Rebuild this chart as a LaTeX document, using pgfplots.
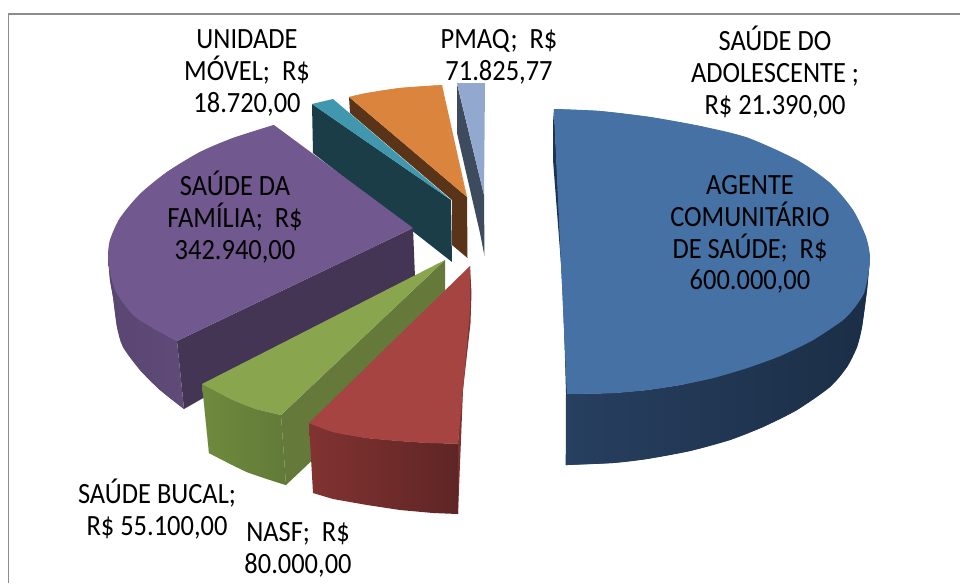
\documentclass[border=0pt]{standalone}
\usepackage{pgfplots}
\pgfplotsset{compat=1.18}
\usepackage{fontspec}
\setmainfont[FakeStretch=0.9]{Carlito}
\definecolor{bluetop}{HTML}{4571A5}
\definecolor{blueA}{HTML}{273F60}
\definecolor{blueB}{HTML}{1B2E46}
\definecolor{bluein}{HTML}{1E3350}
\definecolor{purptop}{HTML}{71588F}
\definecolor{purpA}{HTML}{5F4A78}
\definecolor{purpB}{HTML}{5A4672}
\definecolor{purpin}{HTML}{453555}
\definecolor{greentop}{HTML}{89A54E}
\definecolor{greenA}{HTML}{6F8A3D}
\definecolor{greenB}{HTML}{627A38}
\definecolor{greenin}{HTML}{657A3A}
\definecolor{redtop}{HTML}{A54441}
\definecolor{redA}{HTML}{813331}
\definecolor{redB}{HTML}{5F2525}
\definecolor{redin}{HTML}{7C3331}
\definecolor{tealtop}{HTML}{4097AE}
\definecolor{tealin}{HTML}{1B3D48}
\definecolor{orangetop}{HTML}{DB843D}
\definecolor{orangein}{HTML}{5A3418}
\definecolor{ltop}{HTML}{92A8CE}
\definecolor{lin}{HTML}{3E4A5D}
\definecolor{frame}{HTML}{8C8C8C}
\tikzset{lab/.style={font=\fontsize{29.5}{32}\selectfont, align=center, inner sep=0pt, text=black}}
\begin{document}
\begin{tikzpicture}[x=1bp,y=1bp]
\begin{axis}[
  scale only axis, width=960bp, height=583bp,
  xmin=0, xmax=960, ymin=0, ymax=583, y dir=reverse,
  hide axis, clip=true, no markers,
  every axis plot/.append style={draw=none, line join=round},
]
% background and frame
\addplot[fill=white] coordinates {(0,0)(960,0)(960,583)(0,583)};
\addplot[draw=frame, line width=1.5bp] coordinates {(8.5,583)(8.5,14)(960,14)};
% AGENTE COMUNITARIO: inner strip, outer wall, top
\addplot[fill=bluein] coordinates {(554,109)(553,123)(553,160)(563,290)(566,393)(565.7,465)(568,465)(568,394)};
\addplot[left color=blueA, middle color=blueB, right color=blueB] coordinates {(566,394)(613,393)(647,390)(680,385)(713,378)(747,368)(780,356)(813,340)(843,320)(864,293)(870,257)(867,290)(862,327)(857,347)(847,367)(830,387)(797,410)(763,427)(730,440)(690,451)(647,459)(613,463)(566,465)};
\addplot[smooth, left color=blueA, middle color=blueB, right color=blueB] coordinates {(870,257)(867,290)(862,327)(857,347)(847,367)(830,387)(797,410)(763,427)(730,440)(690,451)(647,459)(613,463)(566,465)};
\addplot[fill=bluetop] coordinates {(554,109)(600,111)(650,117)(700,126)(747,137.5)(797,160)(830,183)(853,210)(866,237)(870,257)(868,275)(864,293)(855,307)(843,320)(813,340)(780,356)(747,368)(713,378)(680,385)(647,390)(613,393)(567,394)};
\addplot[smooth, fill=bluetop] coordinates {(554,109)(600,111)(650,117)(700,126)(747,137.5)(797,160)(830,183)(853,210)(866,237)(870,257)(868,275)(864,293)(855,307)(843,320)(813,340)(780,356)(747,368)(713,378)(680,385)(647,390)(613,393)(567,394)};
% PMAQ
\addplot[fill=lin] coordinates {(457,84)(484,195)(484.5,256)(480,233)(457,133)};
\addplot[fill=ltop] coordinates {(457,83)(485,83)(484,195)};
% orange and teal slices
\addplot[fill=orangein] coordinates {(349,97)(467,197)(467.5,258)(452,245)(452,200)(350,113)};
\addplot[fill=orangetop] coordinates {(349,97)(367,93)(400,88)(442,85)(450,133)(467,197)};
\addplot[smooth, fill=orangetop] coordinates {(349,97)(367,93)(400,88)(442,85)};
\addplot[smooth, fill=orangetop] coordinates {(442,85)(450,133)(467,197)};
\addplot[fill=tealin] coordinates {(312,104)(451,200)(452,262)(313,153)};
\addplot[fill=tealtop] coordinates {(312,104)(333,99)(451,200)};
% SAUDE DA FAMILIA
\addplot[fill=purpin] coordinates {(413,228)(415,277)(184,409)(177,341)};
\addplot[left color=purpB, right color=purpA] coordinates {(108,257)(116,292)(133,315)(153,328)(177,341)(184,409)(160,390)(140,370)(123,347)(117,327)(113,297)(110,280)};
\addplot[smooth, left color=purpB, right color=purpA] coordinates {(108,257)(110,280)(113,297)(117,327)(123,347)(140,370)(160,390)(184,409)};
\addplot[fill=purptop] coordinates {(274,125)(233,138)(200,152)(167,172)(140,194)(120,218)(110,240)(108,257)(110,272)(116,292)(133,315)(153,328)(177,341)(413,228)};
\addplot[smooth, fill=purptop] coordinates {(274,125)(233,138)(200,152)(167,172)(140,194)(120,218)(110,240)(108,257)(110,272)(116,292)(133,315)(153,328)(177,341)};
% SAUDE BUCAL
\addplot[fill=greenin] coordinates {(445,260)(281,415)(286,485)(445,335)};
\addplot[left color=greenA, right color=greenB] coordinates {(202,384)(233,400)(256,409)(281,415)(286,485)(247,472)(209,453)};
\addplot[smooth, left color=greenA, right color=greenB] coordinates {(202,384)(209,453)};
\addplot[smooth, left color=greenA, right color=greenB] coordinates {(209,453)(247,472)(286,485)};
\addplot[fill=greentop] coordinates {(445,260)(202,384)(233,400)(256,409)(281,415)};
\addplot[smooth, fill=greentop] coordinates {(202,384)(233,400)(256,409)(281,415)};
% NASF
\addplot[fill=redin] coordinates {(470,266)(471.5,293)(470.5,323)(463,390)(458,514)(458,443)};
\addplot[left color=redA, right color=redB] coordinates {(309,423)(333,432)(367,438)(400,441)(430,443)(458,443.5)(458,514)(433,513)(400,510)(367,505)(333,499)(313,493)};
\addplot[fill=redtop] coordinates {(470,266)(309,423)(333,432)(367,438)(400,441)(430,443)(458,443.5)(462,400)(465,367)(470,310)};
\addplot[smooth, fill=redtop] coordinates {(309,423)(333,432)(367,438)(400,441)(430,443)(458,443.5)};
% labels
\node[lab] at (axis cs:247,73) {UNIDADE\\MÓVEL;\ \ R\$\\18.720,00};
\node[lab] at (axis cs:499,57) {PMAQ;\ \ R\$\\71.825,77};
\node[lab] at (axis cs:775,72) {SAÚDE DO\\ADOLESCENTE ;\\R\$ 21.390,00};
\node[lab] at (axis cs:750,234.5) {AGENTE\\COMUNITÁRIO\\DE SAÚDE;\ \ R\$\\600.000,00};
\node[lab] at (axis cs:235,217) {SAÚDE DA\\FAMÍLIA;\ \ R\$\\342.940,00};
\node[lab] at (axis cs:157,509) {SAÚDE BUCAL;\\R\$ 55.100,00};
\node[lab] at (axis cs:298,550) {NASF;\ \ R\$\\80.000,00};
\end{axis}
\end{tikzpicture}
\end{document}
